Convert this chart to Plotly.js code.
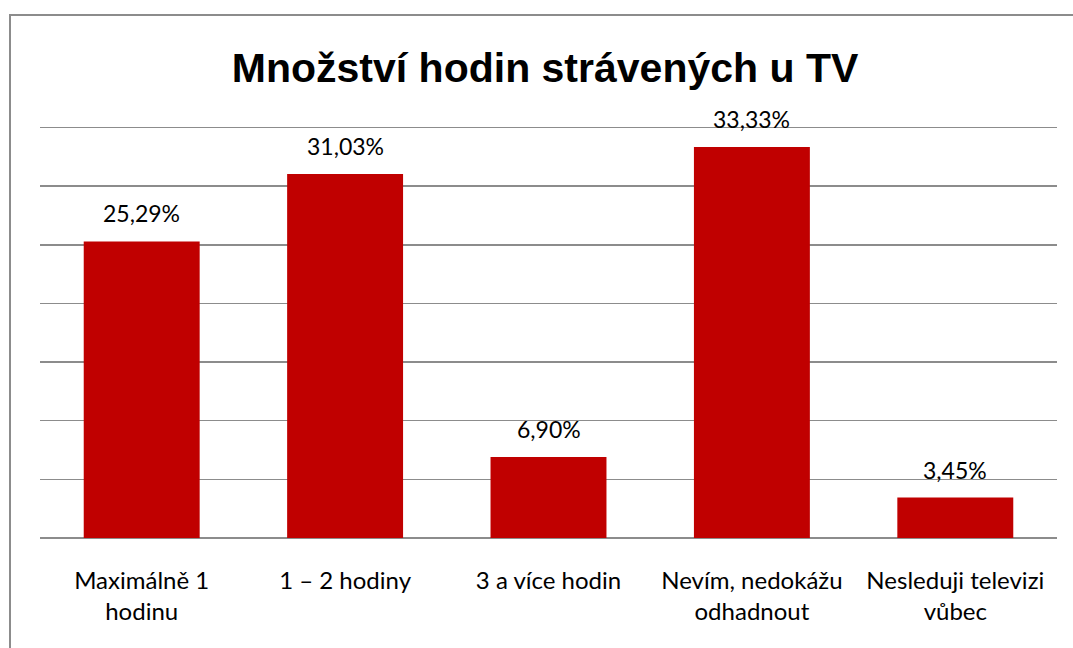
<!DOCTYPE html>
<html>
<head>
<meta charset="utf-8">
<script src="https://cdn.plot.ly/plotly-3.0.1.min.js"></script>
<style>html,body{margin:0;padding:0;background:#fff;overflow:hidden}#chart{width:1073px;height:648px}</style>
</head>
<body>
<div id="chart"></div>
<script>
const categories = ["Maximálně 1<br>hodinu", "1 – 2 hodiny", "3 a více hodin", "Nevím, nedokážu<br>odhadnout", "Nesleduji televizi<br>vůbec"];
const values = [25.29, 31.03, 6.90, 33.33, 3.45];
const labels = values.map(v => v.toFixed(2).replace('.', ',') + '%');
const titleText = "Množství hodin strávených u TV";

const labelFont = {family: 'Lato, "Open Sans", sans-serif', size: 23, color: '#000'};

const trace = {
  type: 'bar',
  x: categories,
  y: values,
  cliponaxis: false,
  marker: {color: '#C00000', line: {width: 0}},
  hoverinfo: 'x+y'
};

const annotations = categories.map((c, i) => ({
  x: c, y: values[i], xref: 'x', yref: 'y',
  text: labels[i], showarrow: false, yanchor: 'bottom', yshift: 12,
  font: labelFont
}));

const layout = {
  width: 1073, height: 648,
  margin: {l: 40, r: 16, t: 124, b: 110},
  paper_bgcolor: '#fff', plot_bgcolor: '#fff',
  bargap: 0.43,
  showlegend: false,
  title: {text: '<b>' + titleText + '</b>', x: 0.508, xanchor: 'center', y: 0.895, yanchor: 'middle',
          font: {family: 'Liberation Sans, Arial, sans-serif', size: 41, color: '#000'}},
  xaxis: {type: 'category', showgrid: false, showline: false, zeroline: false, ticks: '',
          ticklabelstandoff: 26,
          tickfont: {family: 'Lato, "Open Sans", sans-serif', size: 24, color: '#000'}},
  yaxis: {range: [0, 35.3], dtick: 5, tick0: 0, showticklabels: false, showgrid: true, gridcolor: '#8c8c8c', gridwidth: 1.5,
          zeroline: true, zerolinecolor: '#8c8c8c', zerolinewidth: 1.5, showline: false, ticks: ''},
  annotations: annotations,
  shapes: [{type: 'rect', xref: 'paper', yref: 'paper', x0: -0.0295, x1: 1.1, y0: -0.4, y1: 1.263,
            line: {color: '#8c8c8c', width: 2}, fillcolor: 'rgba(0,0,0,0)', layer: 'below'}]
};

Plotly.newPlot('chart', [trace], layout, {displayModeBar: false, staticPlot: true});
</script>
</body>
</html>
